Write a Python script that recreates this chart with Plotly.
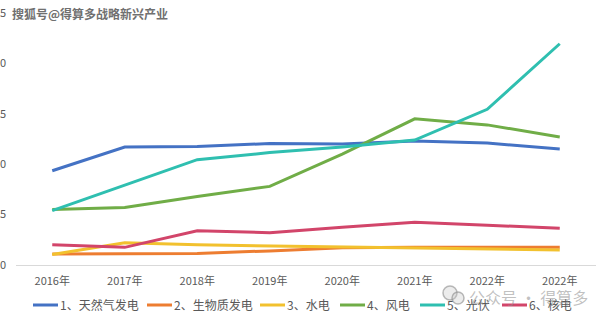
import plotly.graph_objects as go

# Categories (the last year label appears twice in the source table)
years = ["2016年", "2017年", "2018年", "2019年", "2020年", "2021年", "2022年", "2022年"]

series_names = ["1、天然气发电", "2、生物质发电", "3、水电", "4、风电", "5、光伏", "6、核电"]

gas = [9.35, 11.7, 11.75, 12.05, 12.0, 12.3, 12.1, 11.5]
biomass = [1.1, 1.1, 1.15, 1.4, 1.7, 1.75, 1.75, 1.75]
hydro = [1.05, 2.2, 2.0, 1.9, 1.8, 1.7, 1.6, 1.5]
wind = [5.5, 5.7, 6.8, 7.8, 11.0, 14.5, 13.9, 12.7]
solar = [5.4, 7.9, 10.45, 11.15, 11.7, 12.4, 15.45, 21.95]
nuclear = [2.0, 1.75, 3.4, 3.2, 3.75, 4.25, 3.95, 3.65]

y_ticks = [0, 5, 10, 15, 20, 25]

series_values = [gas, biomass, hydro, wind, solar, nuclear]
colors = ["#4472C4", "#ED7D31", "#F2C12E", "#70AD47", "#2FBFB0", "#D2456A"]

W, H = 600, 322
ML, MR, MT, MB = 16, 4, 13, 57
FONT = "Noto Sans CJK SC"
GREY = "#595959"

x_idx = list(range(len(years)))

fig = go.Figure()
for name, vals, col in zip(series_names, series_values, colors):
    fig.add_trace(go.Scatter(
        x=x_idx, y=vals, mode="lines", name=name,
        line=dict(color=col, width=3), showlegend=False,
    ))

fig.update_layout(
    width=W, height=H,
    margin=dict(l=ML, r=MR, t=MT, b=MB),
    paper_bgcolor="white", plot_bgcolor="white",
    font=dict(family=FONT, size=11, color=GREY),
    xaxis=dict(
        range=[-0.5, len(years) - 0.5],
        tickmode="array", tickvals=x_idx, ticktext=years,
        showgrid=False, zeroline=False,
        showline=True, linecolor="#D9D9D9", linewidth=1,
        ticks="", automargin=False, ticklabelstandoff=6,
        tickfont=dict(family=FONT, size=11, color=GREY),
    ),
    yaxis=dict(
        range=[0, 25], tickmode="array", tickvals=y_ticks,
        showgrid=False, zeroline=False, showline=False,
        ticks="", automargin=False, ticklabelstandoff=9,
        tickfont=dict(family=FONT, size=11, color=GREY),
    ),
)

pw = W - ML - MR
ph = H - MT - MB


def px_x(p):
    return (p - ML) / pw


def px_y(p):
    return (H - MB - p) / ph


# Legend drawn row-wise under the axis
legend_starts = [33, 147, 260, 340, 420, 502]
leg_y = 305
shapes = []
annotations = []
for start, name, col in zip(legend_starts, series_names, colors):
    shapes.append(dict(
        type="line", xref="paper", yref="paper",
        x0=px_x(start), x1=px_x(start + 25), y0=px_y(leg_y), y1=px_y(leg_y),
        line=dict(color=col, width=3),
    ))
    annotations.append(dict(
        xref="paper", yref="paper", x=px_x(start + 25), y=px_y(leg_y),
        xanchor="left", yanchor="middle", showarrow=False,
        text=name, font=dict(family=FONT, size=12, color=GREY),
    ))

# Watermarks
annotations.append(dict(
    xref="paper", yref="paper", x=px_x(10), y=px_y(13),
    xanchor="left", yanchor="middle", showarrow=False,
    text="<b>搜狐号@得算多战略新兴产业</b>",
    font=dict(family=FONT, size=12, color="#707070"),
))
annotations.append(dict(
    xref="paper", yref="paper", x=px_x(467), y=px_y(297),
    xanchor="left", yanchor="middle", showarrow=False,
    text="公众号 · 得算多",
    font=dict(family=FONT, size=16, color="rgba(140,140,140,0.55)"),
))
for cx, cy, r in [(450, 293, 7), (458, 298, 6)]:
    shapes.append(dict(
        type="circle", xref="paper", yref="paper",
        x0=px_x(cx - r), x1=px_x(cx + r), y0=px_y(cy + r), y1=px_y(cy - r),
        line=dict(color="rgba(140,140,140,0.6)", width=1.5),
        fillcolor="rgba(200,200,200,0.35)",
    ))

fig.update_layout(shapes=shapes, annotations=annotations)

fig.write_html("out.html")
